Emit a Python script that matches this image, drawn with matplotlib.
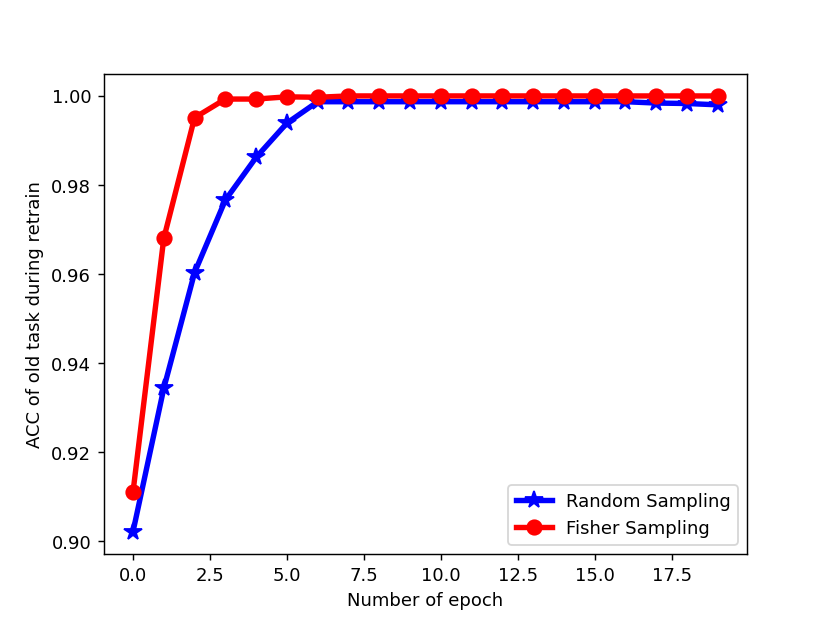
import matplotlib
matplotlib.use("Agg")
import matplotlib.pyplot as plt

epochs = list(range(20))
random_acc = [0.9021, 0.9343, 0.9603, 0.9766, 0.9862, 0.9939, 0.9987, 0.9987,
              0.9987, 0.9987, 0.9987, 0.9987, 0.9987, 0.9987, 0.9987, 0.9987,
              0.9987, 0.9984, 0.9983, 0.9980]
fisher_acc = [0.9110, 0.9680, 0.9951, 0.9993, 0.9993, 0.9998, 0.9997, 1.0,
              1.0, 1.0, 1.0, 1.0, 1.0, 1.0, 1.0, 1.0,
              1.0, 1.0, 1.0, 1.0]

# default 6.4x4.8 figure, rendered at ~130 dpi to get 830x622
dpi = 129.7
fig = plt.figure(figsize=(6.4, 4.8), dpi=dpi)
ax = fig.add_subplot(111)
ax.plot(epochs, random_acc, color="blue", marker="*", markersize=10,
        linewidth=3, label="Random Sampling")
ax.plot(epochs, fisher_acc, color="red", marker="o", markersize=8,
        linewidth=3, label="Fisher Sampling")
ax.set_xlabel("Number of epoch")
ax.set_ylabel("ACC of old task during retrain")
ax.legend(loc="lower right")
fig.savefig("out.png", dpi=dpi)
